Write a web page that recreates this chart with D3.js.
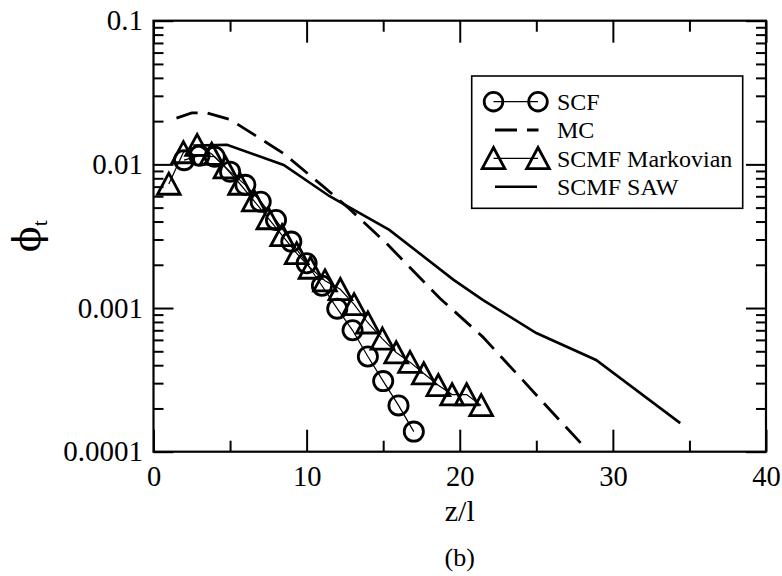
<!DOCTYPE html>
<html>
<head>
<meta charset="utf-8">
<script src="https://cdn.jsdelivr.net/npm/d3@7"></script>
<style>
  html, body { margin: 0; padding: 0; background: #fff; }
  svg { display: block; }
  text { font-family: "Liberation Serif", "Times New Roman", serif; fill: #000; }
</style>
</head>
<body>
<svg id="chart" width="782" height="576"></svg>
<script>
// ---------- data ----------
const scfZ = [2, 3, 4, 5, 6, 7, 8, 9, 10, 11, 12, 13, 14, 15, 16, 17];
const scfV = [0.0107, 0.0115, 0.0113, 0.0089, 0.0072, 0.0055, 0.0041, 0.0029, 0.00205, 0.00143, 0.00099, 0.00070, 0.00046, 0.00031, 0.00021, 0.000138];

const mcZ = [1.5, 2.5, 3.5, 5.0, 6.1, 8.5, 11.1, 12.8, 15.2, 18.7, 21.5, 24.1, 25.9, 27.9];
const mcV = [0.021, 0.0228, 0.0228, 0.0205, 0.0173, 0.0119, 0.0070, 0.0049, 0.00283, 0.00117, 0.00063, 0.000316, 0.000195, 0.000115];

const markZ = [1.0, 1.95, 2.85, 3.8, 4.7, 5.65, 6.55, 7.5, 8.4, 9.35, 10.25, 11.2, 12.2, 13.1, 14.0, 14.95, 15.85, 16.75, 17.65, 18.6, 19.5, 20.45, 21.4];
const markV = [0.0073, 0.0121, 0.0136, 0.0118, 0.0095, 0.0073, 0.0056, 0.0042, 0.0032, 0.0024, 0.0019, 0.00155, 0.00135, 0.00106, 0.00079, 0.00061, 0.00049, 0.00042, 0.00035, 0.00029, 0.00025, 0.00025, 0.00021];

const sawZ = [2.6, 4.8, 8.5, 11.5, 15.4, 19.6, 21.5, 25.0, 28.9, 34.4];
const sawV = [0.0135, 0.0137, 0.0099, 0.0060, 0.0035, 0.00157, 0.00114, 0.00067, 0.000435, 0.000158];

const xMajor = [0, 10, 20, 30, 40];
const xMinor = [5, 15, 25, 35];
const yMajor = [0.0001, 0.001, 0.01, 0.1];
const yMajorLabels = ["0.0001", "0.001", "0.01", "0.1"];
const legendLabels = ["SCF", "MC", "SCMF Markovian", "SCMF SAW"];

// ---------- layout ----------
const X0 = 153.5, X1 = 766, Y0 = 20.7, Y1 = 451.7;
const svg = d3.select("#chart");
const x = d3.scaleLinear().domain([0, 40]).range([X0, X1]);
const y = d3.scaleLog().domain([1e-4, 0.1]).range([Y1, Y0]);

const yMinor = [];
[1e-4, 1e-3, 1e-2].forEach(d => { for (let k = 2; k <= 9; k++) yMinor.push(+(d * k).toPrecision(3)); });

function styleAxis(g, fs) {
  g.attr("font-family", null).attr("font-size", null);
  g.select(".domain").remove();
  g.selectAll(".tick line").attr("stroke", "#000").attr("stroke-width", 2);
  g.selectAll(".tick text").attr("font-family", "Liberation Serif, serif").style("font-size", fs + "px").attr("fill", "#000");
}

// bottom
svg.append("g").attr("transform", `translate(0,${Y1})`)
  .call(d3.axisBottom(x).tickValues(xMajor).tickSize(-22).tickSizeOuter(0).tickPadding(14).tickFormat(d3.format("d")))
  .call(g => styleAxis(g, 28.5));
svg.append("g").attr("transform", `translate(0,${Y1})`)
  .call(d3.axisBottom(x).tickValues(xMinor).tickSize(-11).tickSizeOuter(0).tickFormat(""))
  .call(g => styleAxis(g, 28));
// top
svg.append("g").attr("transform", `translate(0,${Y0})`)
  .call(d3.axisTop(x).tickValues(xMajor).tickSize(-22).tickSizeOuter(0).tickFormat(""))
  .call(g => styleAxis(g, 28));
svg.append("g").attr("transform", `translate(0,${Y0})`)
  .call(d3.axisTop(x).tickValues(xMinor).tickSize(-11).tickSizeOuter(0).tickFormat(""))
  .call(g => styleAxis(g, 28));
// left
svg.append("g").attr("transform", `translate(${X0},0)`)
  .call(d3.axisLeft(y).tickValues(yMajor).tickSize(-20).tickSizeOuter(0).tickPadding(10.5)
    .tickFormat((d, i) => yMajorLabels[i]))
  .call(g => styleAxis(g, 29));
svg.append("g").attr("transform", `translate(${X0},0)`)
  .call(d3.axisLeft(y).tickValues(yMinor).tickSize(-10).tickSizeOuter(0).tickFormat(""))
  .call(g => styleAxis(g, 28));
// right
svg.append("g").attr("transform", `translate(${X1},0)`)
  .call(d3.axisRight(y).tickValues(yMajor).tickSize(-20).tickSizeOuter(0).tickFormat(""))
  .call(g => styleAxis(g, 28));
svg.append("g").attr("transform", `translate(${X1},0)`)
  .call(d3.axisRight(y).tickValues(yMinor).tickSize(-10).tickSizeOuter(0).tickFormat(""))
  .call(g => styleAxis(g, 28));

// frame
svg.append("rect").attr("x", X0).attr("y", Y0).attr("width", X1 - X0).attr("height", Y1 - Y0)
  .attr("fill", "none").attr("stroke", "#000").attr("stroke-width", 2.2);

// ---------- series ----------
const line = d3.line().x(d => x(d[0])).y(d => y(d[1]));
const zip = (a, b) => a.map((v, i) => [v, b[i]]);

const scf = zip(scfZ, scfV), mc = zip(mcZ, mcV), mark = zip(markZ, markV), saw = zip(sawZ, sawV);

const plot = svg.append("g");
plot.append("path").datum(saw).attr("d", line).attr("fill", "none").attr("stroke", "#000").attr("stroke-width", 2.6);
plot.append("path").datum(mc).attr("d", line).attr("fill", "none").attr("stroke", "#000").attr("stroke-width", 2.8)
  .attr("stroke-dasharray", "22,10");
plot.append("path").datum(scf).attr("d", line).attr("fill", "none").attr("stroke", "#000").attr("stroke-width", 1.2);
plot.append("path").datum(mark).attr("d", line).attr("fill", "none").attr("stroke", "#000").attr("stroke-width", 1.2);

const triPath = (cx, cy) => {
  const h = 10.8;
  return `M${cx},${cy - h}L${cx + h * 1.05},${cy + h * 0.95}L${cx - h * 1.05},${cy + h * 0.95}Z`;
};

plot.selectAll("circle.scf").data(scf).join("circle").attr("class", "scf")
  .attr("cx", d => x(d[0])).attr("cy", d => y(d[1])).attr("r", 9.6)
  .attr("fill", "none").attr("stroke", "#000").attr("stroke-width", 2.8);
plot.selectAll("path.tri").data(mark).join("path").attr("class", "tri")
  .attr("d", d => triPath(x(d[0]), y(d[1])))
  .attr("fill", "none").attr("stroke", "#000").attr("stroke-width", 2.8).attr("stroke-linejoin", "miter");

// ---------- legend ----------
const leg = svg.append("g");
leg.append("rect").attr("x", 471.7).attr("y", 76).attr("width", 271).attr("height", 132.3)
  .attr("fill", "#fff").attr("stroke", "#000").attr("stroke-width", 1.6);
const rowY = [101.7, 130, 158.3, 186.7];
const lx1 = 493.5, lx2 = 538;
// SCF
leg.append("line").attr("x1", lx1).attr("x2", lx2).attr("y1", rowY[0]).attr("y2", rowY[0]).attr("stroke", "#000").attr("stroke-width", 1.2);
[lx1, lx2].forEach(cx => leg.append("circle").attr("cx", cx).attr("cy", rowY[0]).attr("r", 9.3)
  .attr("fill", "none").attr("stroke", "#000").attr("stroke-width", 2.8));
// MC
leg.append("line").attr("x1", 495).attr("x2", 538.5).attr("y1", rowY[1]).attr("y2", rowY[1])
  .attr("stroke", "#000").attr("stroke-width", 2.8).attr("stroke-dasharray", "22,10");
// Markovian
leg.append("line").attr("x1", lx1).attr("x2", lx2).attr("y1", rowY[2]).attr("y2", rowY[2]).attr("stroke", "#000").attr("stroke-width", 1.2);
[lx1, lx2].forEach(cx => leg.append("path").attr("d", triPath(cx, rowY[2]))
  .attr("fill", "none").attr("stroke", "#000").attr("stroke-width", 2.8));
// SAW
leg.append("line").attr("x1", 495).attr("x2", 537).attr("y1", rowY[3]).attr("y2", rowY[3]).attr("stroke", "#000").attr("stroke-width", 2.6);
legendLabels.forEach((t, i) => leg.append("text").attr("x", 557).attr("y", rowY[i]).attr("dy", "0.35em")
  .style("font-size", "24px").text(t));

// ---------- titles ----------
svg.append("text").attr("x", (X0 + X1) / 2).attr("y", 521).attr("text-anchor", "middle")
  .style("font-size", "30px").text("z/l");
svg.append("text").attr("x", (X0 + X1) / 2).attr("y", 566).attr("text-anchor", "middle")
  .style("font-size", "26px").text("(b)");
const yt = svg.append("text").attr("transform", `translate(40,${(Y0 + Y1) / 2}) rotate(-90)`)
  .attr("text-anchor", "middle").style("font-size", "38px")
  .style("font-family", "'DejaVu Serif', 'Liberation Serif', serif");
yt.append("tspan").text("ϕ");
yt.append("tspan").attr("dy", "0.3em").style("font-size", "22px")
  .style("font-family", "'Liberation Serif', serif").text("t");
</script>
</body>
</html>
